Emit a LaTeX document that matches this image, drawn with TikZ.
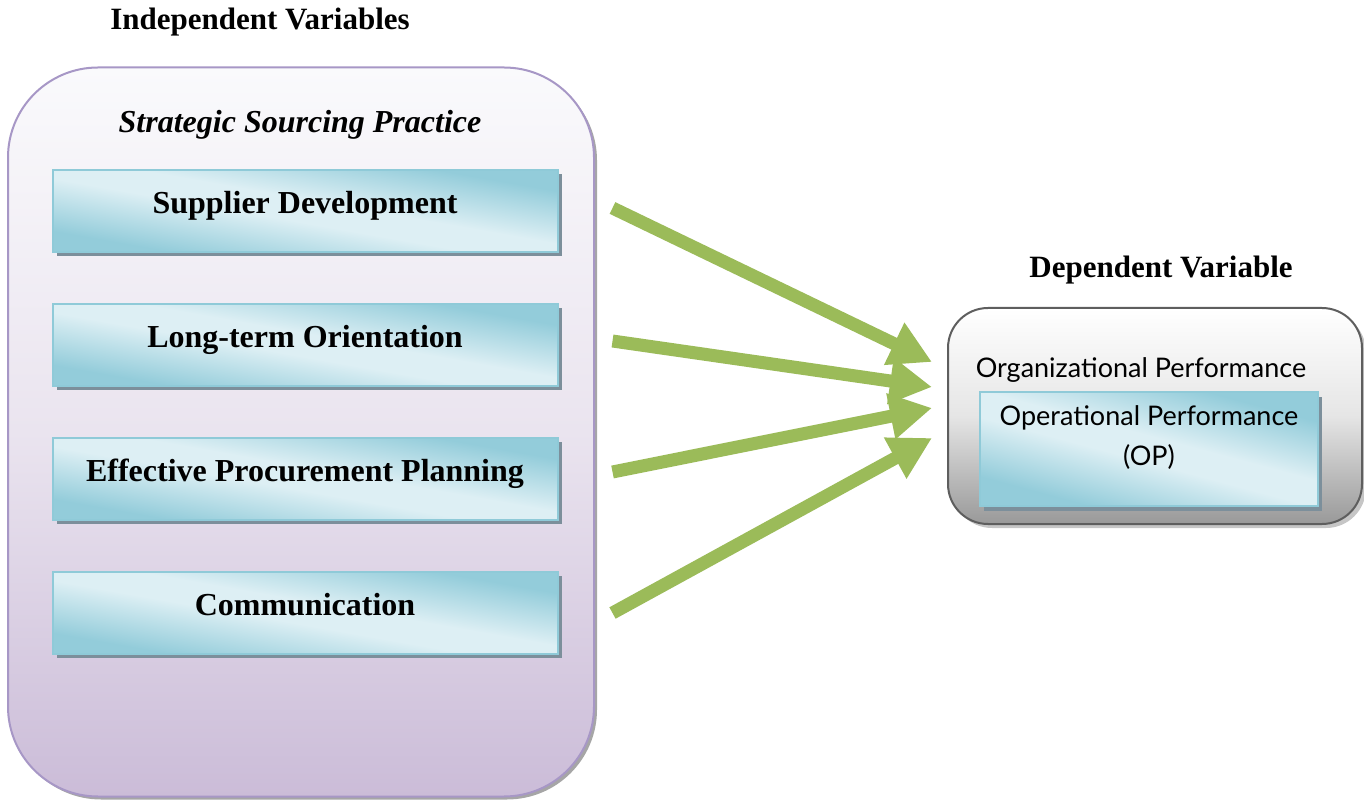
\documentclass[tikz,border=0pt]{standalone}
\usepackage{fontspec}
\setmainfont{Liberation Serif}
\newfontfamily\opfont{Lato}
\usepackage{tikz}
\usetikzlibrary{positioning, arrows.meta, shadows}

\definecolor{lilacline}{HTML}{A797C6}
\definecolor{lilactop}{HTML}{FAFAFC}
\definecolor{lilacmid}{HTML}{EAE4EF}
\definecolor{lilacbot}{HTML}{CBBCD8}
\definecolor{aquadark}{HTML}{93CCDA}
\definecolor{aqualight}{HTML}{DDEFF4}
\definecolor{aqualine}{HTML}{8FCAD8}
\definecolor{aquashadow}{HTML}{7C8F9B}
\definecolor{arrowgreen}{HTML}{9BBB59}
\definecolor{greyline}{HTML}{5E5E5E}

\pgfdeclarehorizontalshading{aquaglass}{100bp}{color(0bp)=(aquadark); color(28bp)=(aquadark); color(46bp)=(aqualight); color(54bp)=(aqualight); color(72bp)=(aquadark); color(100bp)=(aquadark)}

\tikzstyle{heading} = [font=\fontsize{31}{36}\selectfont\bfseries]
\tikzstyle{subheading} = [font=\fontsize{32}{38}\selectfont\bfseries\itshape]
\tikzstyle{practice} = [rectangle, rounded corners=90pt, minimum width=586pt, minimum height=729pt, draw=lilacline, line width=2pt, top color=lilactop, bottom color=lilacbot, middle color=lilacmid, drop shadow={shadow xshift=3pt, shadow yshift=-3pt, fill=gray!70, opacity=1}]
\tikzstyle{factor} = [rectangle, minimum width=505pt, minimum height=82pt, text height=20pt, text depth=15pt, draw=aqualine, line width=2pt, shading=aquaglass, shading angle=80, drop shadow={shadow xshift=4pt, shadow yshift=-4pt, fill=aquashadow, opacity=1}, font=\fontsize{32}{38}\selectfont\bfseries]
\tikzstyle{outcome} = [rectangle, rounded corners=40pt, minimum width=414pt, minimum height=216pt, draw=greyline, line width=2pt, top color=white, bottom color=gray!80, middle color=gray!20, drop shadow={shadow xshift=4pt, shadow yshift=-4pt, fill=gray!45, opacity=1}]
\tikzstyle{opbox} = [rectangle, minimum width=338pt, minimum height=113pt, align=center, text depth=26pt, draw=aqualine, line width=2pt, shading=aquaglass, shading angle=75, drop shadow={shadow xshift=4pt, shadow yshift=-5pt, fill=aquashadow, opacity=1}, font=\opfont\fontsize{27}{40}\selectfont]
\tikzstyle{plain} = [font=\opfont\fontsize{27}{32}\selectfont]
\tikzstyle{arrow} = [line width=13pt, draw=arrowgreen, -{Triangle[length=42pt, width=44pt]}]

\begin{document}
\begin{tikzpicture}[x=1pt, y=1pt, node distance=134pt, on grid]
	\useasboundingbox (0,0) rectangle (1364,801);

	\node (practice) [practice] at (301,369) {};
	\node (indep) [heading] at (260,779) {Independent Variables};
	\node (ssp) [subheading] at (300,676) {Strategic Sourcing Practice};

	\node (supplier) [factor] at (305,590) {Supplier Development};
	\node (longterm) [factor, below=of supplier] {Long-term Orientation};
	\node (planning) [factor, below=of longterm] {Effective Procurement Planning};
	\node (comm) [factor, below=of planning] {Communication};

	\node (outcome) [outcome] at (1155,385) {};
	\node (dep) [heading] at (1161,531) {Dependent Variable};
	\node (orgperf) [plain] at (1141,431) {Organizational Performance};
	\node (op) [opbox] at (1149,352) {Operational Performance\\(OP)};

	\draw [arrow] ([xshift=54pt, yshift=3pt]supplier.east) -- ([xshift=-15pt, yshift=54pt]outcome.west);
	\draw [arrow] ([xshift=54pt, yshift=4pt]longterm.east) -- ([xshift=-15pt, yshift=29pt]outcome.west);
	\draw [arrow] ([xshift=54pt, yshift=7pt]planning.east) -- ([xshift=-15pt, yshift=8pt]outcome.west);
	\draw [arrow] ([xshift=54pt]comm.east) -- ([xshift=-15pt, yshift=-22pt]outcome.west);

\end{tikzpicture}
\end{document}
